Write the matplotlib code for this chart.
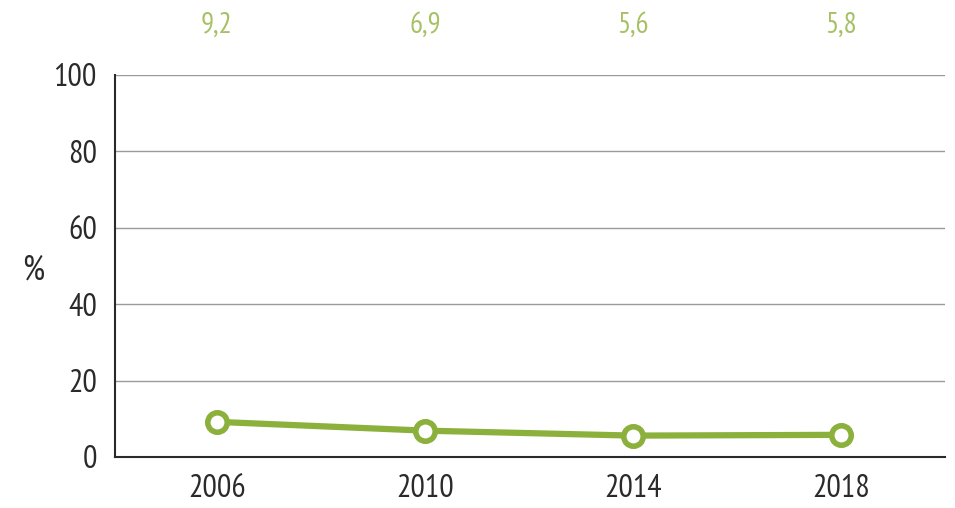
import matplotlib.pyplot as plt

# data
years = [2006, 2010, 2014, 2018]
values = [9.2, 6.9, 5.6, 5.8]
value_labels = ['9,2', '6,9', '5,6', '5,8']
yticks = [0, 20, 40, 60, 80, 100]

green = '#8cb03c'
label_green = '#a6c163'
text_col = '#2a2a2a'

plt.rcParams['font.family'] = ['PT Sans Narrow', 'DejaVu Sans']
plt.rcParams['font.weight'] = 'normal'

fig = plt.figure(figsize=(9.55, 5.08), dpi=100)
ax = fig.add_axes([0.1204, 0.1004, 0.8691, 0.752])

for y in yticks[1:]:
    ax.axhline(y, color='#9a9a9a', linewidth=1.0, zorder=1)

ax.plot(years, values, color=green, linewidth=4.5, marker='o', markersize=14,
        markerfacecolor='white', markeredgecolor=green, markeredgewidth=4,
        zorder=3, clip_on=False)

for x, lab in zip(years, value_labels):
    ax.text(x, 1.13, lab, transform=ax.get_xaxis_transform(), ha='center',
            va='center', fontsize=21, color=label_green)

ax.set_xlim(2004.04, 2020.0)
ax.set_ylim(0, 100)
ax.set_xticks(years)
ax.set_yticks(yticks)
ax.tick_params(axis='both', length=0, labelsize=23, colors=text_col)
ax.tick_params(axis='y', pad=13)
ax.tick_params(axis='x', pad=12)

for s in ['top', 'right']:
    ax.spines[s].set_visible(False)
ax.spines['left'].set_color(text_col)
ax.spines['bottom'].set_color(text_col)
ax.spines['left'].set_linewidth(1.5)
ax.spines['bottom'].set_linewidth(1.5)

fig.text(0.035, 0.468, '%', fontsize=25, color=text_col, ha='center', va='center')

plt.savefig('out.png', dpi=100)
